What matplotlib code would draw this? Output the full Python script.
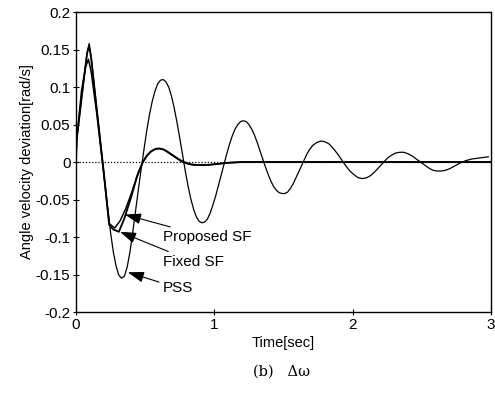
import matplotlib
matplotlib.use("Agg")
import matplotlib.pyplot as plt

# ── Data (time [s], angle velocity deviation [rad/s]) ──
t_pss = [0.0, 0.005, 0.05, 0.08, 0.095, 0.11, 0.15, 0.2, 0.23, 0.25, 0.27,
         0.29, 0.31, 0.33, 0.35, 0.37, 0.39, 0.41, 0.43, 0.45, 0.47, 0.49,
         0.51, 0.53, 0.55, 0.57, 0.59, 0.61, 0.63, 0.65, 0.67, 0.69, 0.71,
         0.73, 0.75, 0.77, 0.79, 0.81, 0.83, 0.85, 0.87, 0.89, 0.91, 0.93,
         0.95, 0.97, 0.99, 1.01, 1.03, 1.05, 1.07, 1.09, 1.11, 1.13, 1.15,
         1.17, 1.19, 1.21, 1.23, 1.25, 1.27, 1.29, 1.31, 1.33, 1.35, 1.37,
         1.39, 1.41, 1.43, 1.45, 1.47, 1.49, 1.51, 1.53, 1.55, 1.57, 1.59,
         1.61, 1.63, 1.65, 1.67, 1.69, 1.71, 1.74, 1.77, 1.8, 1.83, 1.86,
         1.89, 1.92, 1.95, 1.98, 2.01, 2.04, 2.07, 2.1, 2.13, 2.16, 2.19,
         2.22, 2.25, 2.28, 2.31, 2.34, 2.37, 2.4, 2.43, 2.46, 2.49, 2.52,
         2.55, 2.58, 2.61, 2.64, 2.67, 2.7, 2.74, 2.78, 2.82, 2.86, 2.9,
         2.94, 2.98]
v_pss = [0.0, 0.03, 0.1, 0.145, 0.158, 0.14, 0.072, -0.012, -0.062, -0.094,
         -0.12, -0.139, -0.151, -0.155, -0.152, -0.14, -0.12, -0.094, -0.066,
         -0.038, -0.011, 0.015, 0.04, 0.062, 0.08, 0.094, 0.104, 0.109, 0.11,
         0.107, 0.1, 0.088, 0.072, 0.053, 0.032, 0.01, -0.012, -0.032, -0.049,
         -0.063, -0.073, -0.079, -0.081, -0.08, -0.076, -0.068, -0.057, -0.045,
         -0.031, -0.017, -0.003, 0.011, 0.024, 0.035, 0.044, 0.05, 0.054,
         0.055, 0.054, 0.05, 0.044, 0.036, 0.026, 0.015, 0.004, -0.007,
         -0.017, -0.026, -0.033, -0.038, -0.041, -0.042, -0.042, -0.04,
         -0.035, -0.029, -0.021, -0.013, -0.005, 0.003, 0.011, 0.017, 0.022,
         0.026, 0.028, 0.027, 0.024, 0.018, 0.011, 0.003, -0.005, -0.012,
         -0.017, -0.021, -0.022, -0.021, -0.018, -0.013, -0.007, -0.001,
         0.005, 0.009, 0.012, 0.013, 0.013, 0.011, 0.008, 0.004, 0.0, -0.004,
         -0.008, -0.011, -0.012, -0.012, -0.011, -0.009, -0.005, -0.001,
         0.002, 0.004, 0.005, 0.006, 0.007]

t_fixed = [0.0, 0.005, 0.05, 0.08, 0.095, 0.11, 0.15, 0.2, 0.24, 0.27, 0.31,
           0.35, 0.4, 0.44, 0.48, 0.51, 0.54, 0.57, 0.6, 0.63, 0.66, 0.7,
           0.74, 0.78, 0.83, 0.88, 0.94, 1.0, 1.1, 1.2, 1.5, 2.0, 2.5, 3.0]
v_fixed = [0.0, 0.03, 0.1, 0.145, 0.155, 0.138, 0.07, -0.012, -0.084, -0.09,
           -0.093, -0.075, -0.046, -0.02, -0.001, 0.008, 0.014, 0.017, 0.018,
           0.017, 0.014, 0.009, 0.004, 0.0, -0.003, -0.004, -0.004, -0.003,
           -0.001, 0.0, 0.0, 0.0, 0.0, 0.0]

t_prop = [0.0, 0.005, 0.04, 0.07, 0.09, 0.11, 0.15, 0.2, 0.24, 0.28, 0.32,
          0.36, 0.4, 0.45, 0.49, 0.52, 0.55, 0.58, 0.61, 0.64, 0.68, 0.72,
          0.76, 0.8, 0.85, 0.9, 0.95, 1.0, 1.1, 1.2, 1.5, 2.0, 2.5, 3.0]
v_prop = [0.0, 0.03, 0.095, 0.127, 0.137, 0.12, 0.065, -0.015, -0.082, -0.088,
          -0.078, -0.062, -0.042, -0.014, 0.002, 0.01, 0.015, 0.018, 0.018,
          0.016, 0.011, 0.006, 0.001, -0.002, -0.004, -0.004, -0.004, -0.003,
          -0.001, 0.0, 0.0, 0.0, 0.0, 0.0]

y_ticks = [0.2, 0.15, 0.1, 0.05, 0, -0.05, -0.1, -0.15, -0.2]
y_labels = ["0.2", "0.15", "0.1", "0.05", "0", "-0.05", "-0.1", "-0.15", "-0.2"]
x_ticks = [0, 1, 2, 3]

# callouts: label, arrow tip (t, v), text anchor (t, v)
callouts = [
    ("Proposed SF", (0.353, -0.070), (0.63, -0.100)),
    ("Fixed SF",    (0.317, -0.093), (0.63, -0.133)),
    ("PSS",         (0.374, -0.147), (0.63, -0.168)),
]

plt.rcParams["font.family"] = ["Liberation Sans", "DejaVu Sans"]

fig = plt.figure(figsize=(4.95, 3.94), dpi=100, facecolor="white")
ax = fig.add_axes([0.1535, 0.208, 0.8385, 0.7615])

ax.axhline(0, color="black", lw=0.9, ls=(0, (1, 1.5)))
ax.plot(t_pss, v_pss, color="black", lw=0.9)
ax.plot(t_fixed, v_fixed, color="black", lw=1.3)
ax.plot(t_prop, v_prop, color="black", lw=1.1)

for label, tip, txt in callouts:
    ax.annotate(label, xy=tip, xytext=txt, fontsize=11, ha="left", va="center",
                arrowprops=dict(arrowstyle="-|>,head_length=0.9,head_width=0.3",
                                color="black", lw=0.8, shrinkA=1, shrinkB=0))

ax.set_xlim(0, 3)
ax.set_ylim(-0.2, 0.2)
ax.set_xticks(x_ticks)
ax.set_yticks(y_ticks)
ax.set_yticklabels(y_labels)
ax.tick_params(direction="inout", length=4, width=0.8, labelsize=11, pad=2)
for s in ax.spines.values():
    s.set_linewidth(1.0)

ax.set_xlabel("Time[sec]", fontsize=10.5, labelpad=3)
ax.set_ylabel("Angle velocity deviation[rad/s]", fontsize=10.5, labelpad=1)

fig.text(0.568, 1 - 372 / 394, "(b)   Δω", fontsize=10.5, ha="center", va="center",
         family=["DejaVu Serif"])

fig.savefig("out.png", dpi=100, facecolor="white")
